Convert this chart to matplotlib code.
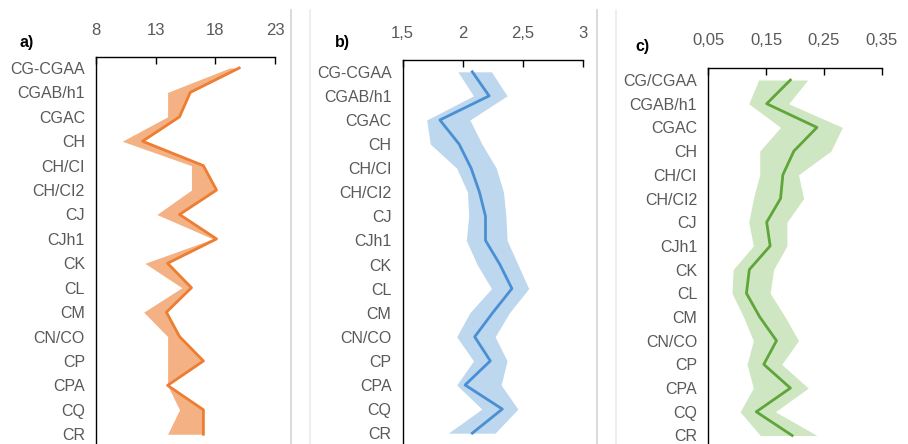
import matplotlib
matplotlib.use("Agg")
from matplotlib import pyplot as plt
from matplotlib.lines import Line2D

plt.rcParams['font.family'] = ['Liberation Sans', 'DejaVu Sans']

# categories (top to bottom)
cats_a = ["CG-CGAA", "CGAB/h1", "CGAC", "CH", "CH/CI", "CH/CI2", "CJ", "CJh1",
          "CK", "CL", "CM", "CN/CO", "CP", "CPA", "CQ", "CR"]
cats_c = ["CG/CGAA"] + cats_a[1:]

# panel a
line_a = [20.0, 15.9, 15.0, 11.9, 17.0, 18.1, 15.0, 18.1,
          14.0, 16.0, 13.9, 15.0, 17.0, 14.0, 17.0, 17.0]
lo_a = [19.2, 14.0, 14.0, 10.2, 16.0, 16.0, 13.1, 17.8,
        12.1, 15.2, 12.0, 14.0, 14.0, 14.0, 15.0, 14.0]
hi_a = [20.0, 15.9, 15.0, 11.9, 17.0, 18.1, 15.0, 18.1,
        14.0, 16.0, 13.9, 15.0, 17.0, 14.0, 17.0, 17.0]
ticks_a = [8, 13, 18, 23]
ticklabels_a = ["8", "13", "18", "23"]

# panel b
line_b = [2.08, 2.22, 1.81, 1.97, 2.07, 2.14, 2.19, 2.19,
          2.31, 2.41, 2.25, 2.10, 2.23, 2.02, 2.33, 2.08]
lo_b = [1.96, 2.09, 1.70, 1.73, 1.95, 2.04, 2.05, 2.03,
        2.12, 2.24, 2.06, 1.95, 2.09, 1.95, 2.16, 1.88]
hi_b = [2.24, 2.37, 2.06, 2.16, 2.28, 2.34, 2.36, 2.37,
        2.46, 2.55, 2.39, 2.27, 2.37, 2.32, 2.46, 2.27]
ticks_b = [1.5, 2, 2.5, 3]
ticklabels_b = ["1,5", "2", "2,5", "3"]

# panel c
line_c = [0.192, 0.151, 0.238, 0.198, 0.179, 0.175, 0.151, 0.157,
          0.121, 0.116, 0.139, 0.168, 0.146, 0.192, 0.133, 0.195]
lo_c = [0.137, 0.120, 0.175, 0.139, 0.139, 0.128, 0.120, 0.128,
        0.093, 0.091, 0.111, 0.128, 0.117, 0.128, 0.105, 0.140]
hi_c = [0.222, 0.189, 0.282, 0.262, 0.206, 0.215, 0.186, 0.186,
        0.163, 0.157, 0.183, 0.206, 0.177, 0.223, 0.166, 0.238]
ticks_c = [0.05, 0.15, 0.25, 0.35]
ticklabels_c = ["0,05", "0,15", "0,25", "0,35"]

W, H = 908, 444
fig = plt.figure(figsize=(W / 100, H / 100), dpi=100)

panels = [
    # rect (px: left, right, top), y limits, label pos, data
    dict(px=(96, 275, 57), ylim=(-0.45, 15.4), lab=(19, 42), name="a)",
         cats=cats_a, line=line_a, lo=lo_a, hi=hi_a, ticks=ticks_a, tl=ticklabels_a,
         line_col="#ED7D31", band_col="#F4B183"),
    dict(px=(402.7, 582.7, 60), ylim=(-0.49, 15.45), lab=(335, 43), name="b)",
         cats=cats_a, line=line_b, lo=lo_b, hi=hi_b, ticks=ticks_b, tl=ticklabels_b,
         line_col="#4A8FD4", band_col="#BDD7EE"),
    dict(px=(708.3, 881.7, 67.7), ylim=(-0.52, 15.36), lab=(635, 46), name="c)",
         cats=cats_c, line=line_c, lo=lo_c, hi=hi_c, ticks=ticks_c, tl=ticklabels_c,
         line_col="#5EA63A", band_col="#CFE6C2"),
]

for p in panels:
    l, r, t = p["px"]
    ax = fig.add_axes([l / W, 0, (r - l) / W, 1 - t / H])
    y = list(range(len(p["cats"])))
    ax.fill_betweenx(y, p["lo"], p["hi"], color=p["band_col"], lw=0)
    ax.plot(p["line"], y, color=p["line_col"], lw=2.0)
    ax.set_xlim(p["ticks"][0], p["ticks"][-1])
    ax.set_ylim(p["ylim"][1], p["ylim"][0])
    ax.set_yticks(y)
    ax.set_yticklabels(p["cats"])
    ax.set_xticks(p["ticks"])
    ax.set_xticklabels(p["tl"])
    ax.xaxis.tick_top()
    ax.tick_params(axis="x", direction="in", length=5, width=1, pad=14,
                   labelsize=12, labelcolor="#595959")
    ax.tick_params(axis="y", length=0, pad=8, labelsize=11.5, labelcolor="#595959")
    for s in ["right", "bottom"]:
        ax.spines[s].set_visible(False)
    for s in ["left", "top"]:
        ax.spines[s].set_color("black")
        ax.spines[s].set_linewidth(1.0)
    fig.text(p["lab"][0] / W, 1 - p["lab"][1] / H, p["name"], fontsize=11.5,
             fontweight="bold", va="center", ha="left")

# thin grey separators between the panels
for x, c in [(291, "#D4D4D4"), (310, "#EBEBEB"), (597, "#D4D4D4"), (616, "#EBEBEB")]:
    fig.add_artist(Line2D([x / W, x / W], [0, 1 - 10 / H], color=c, lw=1.2))

fig.savefig("out.png", dpi=100, facecolor="white")
